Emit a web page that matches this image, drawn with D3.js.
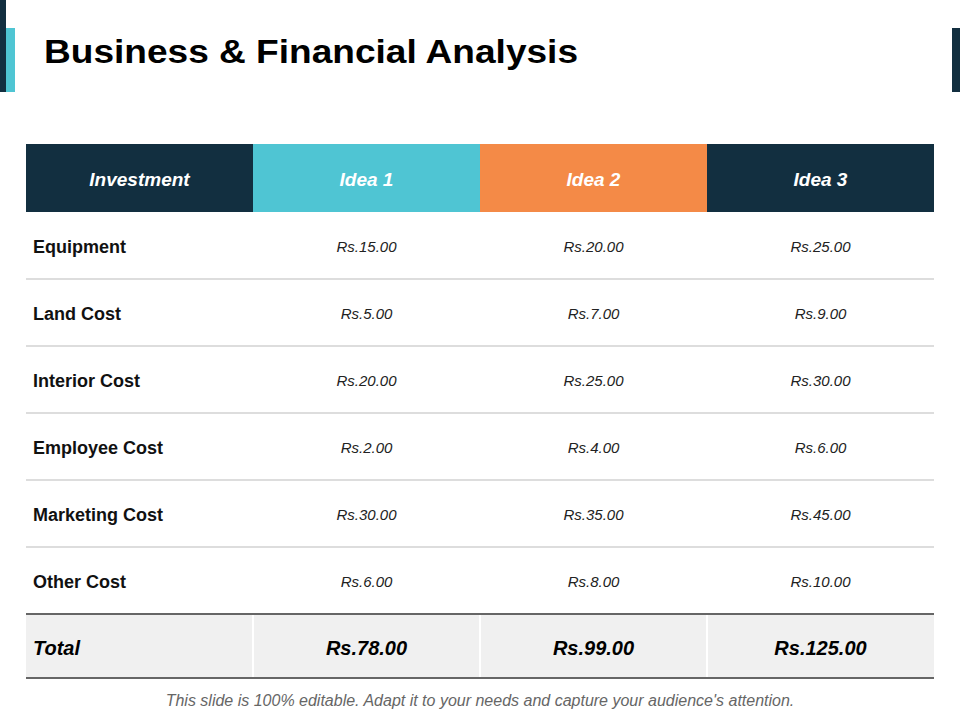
<!DOCTYPE html><html><head><meta charset="utf-8"><script src="https://d3js.org/d3.v7.min.js"></script>
<style>body{margin:0;background:#fff}text{font-family:"Liberation Sans",Arial,sans-serif}</style></head><body>
<svg id="c" width="960" height="720"></svg>
<script>
const headers=["Investment","Idea 1","Idea 2","Idea 3"];
const headerColors=["#122f40","#4fc5d3","#f48a47","#122f40"];
const categories=["Equipment","Land Cost","Interior Cost","Employee Cost","Marketing Cost","Other Cost"];
const idea1=[15,5,20,2,30,6];
const idea2=[20,7,25,4,35,8];
const idea3=[25,9,30,6,45,10];
const totals=[78,99,125];
const fmt=v=>"Rs."+v.toFixed(2);
const svg=d3.select("#c");
svg.append("rect").attr("x",0).attr("y",0).attr("width",6).attr("height",92).attr("fill","#122f40");
svg.append("rect").attr("x",6).attr("y",28).attr("width",9).attr("height",64).attr("fill","#4fc5d3");
svg.append("rect").attr("x",952).attr("y",28).attr("width",8).attr("height",64).attr("fill","#122f40");
svg.append("text").attr("x",44).attr("y",63).attr("font-size",34).attr("font-weight","bold").attr("fill","#000").attr("textLength",534).attr("lengthAdjust","spacingAndGlyphs").text("Business & Financial Analysis");
const x=d3.scaleBand().domain(d3.range(4)).range([26,934]);
const rowY=d3.scaleBand().domain(d3.range(6)).range([212,614]);
headers.forEach((h,i)=>{
 svg.append("rect").attr("x",x(i)).attr("y",144).attr("width",x.bandwidth()).attr("height",68).attr("fill",headerColors[i]);
 svg.append("text").attr("x",x(i)+x.bandwidth()/2).attr("y",186).attr("text-anchor","middle").attr("font-size",19).attr("font-weight","bold").attr("font-style","italic").attr("fill","#fff").text(h);
});
const series=[idea1,idea2,idea3];
categories.forEach((c,r)=>{
 const y=rowY(r),h=rowY.bandwidth();
 if(r<5)svg.append("line").attr("x1",26).attr("x2",934).attr("y1",y+h).attr("y2",y+h).attr("stroke","#bbb").attr("stroke-width",1);
 svg.append("text").attr("x",33).attr("y",y+h/2+7).attr("font-size",18).attr("font-weight","bold").attr("fill","#111").text(c);
 series.forEach((s,j)=>svg.append("text").attr("x",x(j+1)+x.bandwidth()/2).attr("y",y+h/2+6).attr("text-anchor","middle").attr("font-size",15).attr("font-style","italic").attr("fill","#222").text(fmt(s[r])));
});
svg.append("rect").attr("x",26).attr("y",614).attr("width",908).attr("height",64).attr("fill","#f0f0f0");
[1,2,3].forEach(i=>svg.append("line").attr("x1",x(i)).attr("x2",x(i)).attr("y1",614).attr("y2",678).attr("stroke","#fff").attr("stroke-width",2));
svg.append("line").attr("x1",26).attr("x2",934).attr("y1",614).attr("y2",614).attr("stroke","#666").attr("stroke-width",2);
svg.append("line").attr("x1",26).attr("x2",934).attr("y1",678).attr("y2",678).attr("stroke","#666").attr("stroke-width",2);
svg.append("text").attr("x",33).attr("y",655).attr("font-size",20).attr("font-weight","bold").attr("font-style","italic").attr("fill","#000").text("Total");
totals.forEach((t,j)=>svg.append("text").attr("x",x(j+1)+x.bandwidth()/2).attr("y",655).attr("text-anchor","middle").attr("font-size",20).attr("font-weight","bold").attr("font-style","italic").attr("fill","#000").text(fmt(t)));
svg.append("text").attr("x",480).attr("y",706).attr("text-anchor","middle").attr("font-size",16).attr("font-style","italic").attr("fill","#666").text("This slide is 100% editable. Adapt it to your needs and capture your audience's attention.");
</script></body></html>
